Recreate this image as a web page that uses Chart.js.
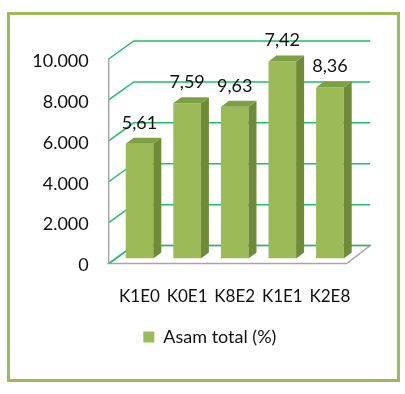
<!DOCTYPE html>
<html>
<head>
<meta charset="utf-8">
<script src="https://cdn.jsdelivr.net/npm/chart.js@4"></script>
<style>
  html, body { margin: 0; padding: 0; background: #fff; }
  #wrap { width: 405px; height: 394px; position: relative; }
</style>
</head>
<body>
<div id="wrap"><canvas id="chart" width="405" height="394"></canvas></div>
<script>
const categories = ['K1E0', 'K0E1', 'K8E2', 'K1E1', 'K2E8']
const asamTotal = [5.61, 7.59, 7.42, 9.63, 8.36]
// labels as printed above the bars in the original (not in bar order)
const valueLabels = ['5,61', '7,59', '9,63', '7,42', '8,36']
const yTicks = [0, 2, 4, 6, 8, 10]

const FRONT = '#9bbb59'
const SIDE = '#6e8c38'
const TOP = '#7f9f45'
const GRID = '#1fbf6a'
const DEPTH_X = 8, DEPTH_Y = 6

const threeD = {
  id: 'threeD',
  afterLayout(chart) {
    // legend is centred on the whole frame, not on the plot
    chart.legend.left += 33
    chart.legend.right += 33
  },
  beforeDraw(chart) {
    const ctx = chart.ctx
    const y = chart.scales.y
    const a = chart.chartArea
    ctx.save()
    ctx.fillStyle = '#fff'
    ctx.fillRect(0, 0, chart.width, chart.height)
    // frame
    ctx.strokeStyle = FRONT
    ctx.lineWidth = 3
    ctx.strokeRect(8.5, 13.5, 390, 367)

    const fx = a.left - 7, bx = a.left + 18, brx = a.right + 16.5, frx = a.right - 7
    const yF = v => y.getPixelForValue(v) + 5
    const yB = v => y.getPixelForValue(v) - 13
    // floor
    ctx.beginPath()
    ctx.moveTo(fx, yF(0))
    ctx.lineTo(frx, yF(0))
    ctx.lineTo(brx, yB(0))
    ctx.lineTo(bx, yB(0))
    ctx.closePath()
    ctx.fillStyle = '#fff'
    ctx.fill()
    ctx.strokeStyle = '#a6a6a6'
    ctx.lineWidth = 1.5
    ctx.stroke()
    // gridlines (side wall diagonal + back wall)
    ctx.strokeStyle = GRID
    ctx.lineWidth = 1.5
    yTicks.forEach(v => {
      ctx.beginPath()
      ctx.moveTo(fx, yF(v))
      ctx.lineTo(bx, yB(v))
      ctx.lineTo(brx, yB(v))
      ctx.stroke()
    })
    // vertical axis line
    ctx.strokeStyle = '#a6a6a6'
    ctx.lineWidth = 1.5
    ctx.beginPath()
    ctx.moveTo(fx, yF(10))
    ctx.lineTo(fx, yF(0))
    ctx.stroke()
    ctx.restore()
  },
  afterDatasetsDraw(chart) {
    const ctx = chart.ctx
    const meta = chart.getDatasetMeta(0)
    ctx.save()
    meta.data.forEach((bar, i) => {
      const p = bar.getProps(['x', 'y', 'base', 'width'], true)
      const l = p.x - p.width / 2, r = p.x + p.width / 2
      ctx.fillStyle = SIDE
      ctx.beginPath()
      ctx.moveTo(r, p.y)
      ctx.lineTo(r + DEPTH_X, p.y - DEPTH_Y)
      ctx.lineTo(r + DEPTH_X, p.base - DEPTH_Y)
      ctx.lineTo(r, p.base)
      ctx.closePath()
      ctx.fill()
      ctx.fillStyle = TOP
      ctx.beginPath()
      ctx.moveTo(l, p.y)
      ctx.lineTo(l + DEPTH_X, p.y - DEPTH_Y)
      ctx.lineTo(r + DEPTH_X, p.y - DEPTH_Y)
      ctx.lineTo(r, p.y)
      ctx.closePath()
      ctx.fill()

      ctx.fillStyle = '#111'
      ctx.font = '18px Lato'
      ctx.textAlign = 'center'
      ctx.textBaseline = 'middle'
      ctx.fillText(valueLabels[i], p.x, p.y - 21)
    })
    ctx.restore()
  }
}

new Chart(document.getElementById('chart'), {
  type: 'bar',
  data: {
    labels: categories,
    datasets: [{
      label: 'Asam total (%)',
      data: asamTotal,
      backgroundColor: FRONT,
      borderWidth: 0,
      categoryPercentage: 1,
      barPercentage: 0.58
    }]
  },
  options: {
    responsive: false,
    animation: false,
    layout: { padding: { top: 54, right: 51.3, left: 0, bottom: 38 } },
    plugins: {
      tooltip: { enabled: false },
      legend: {
        position: 'bottom',
        labels: {
          boxWidth: 11,
          boxHeight: 11,
          padding: 10,
          color: '#111',
          font: { family: 'Lato', size: 18 }
        }
      }
    },
    scales: {
      x: {
        afterFit(scale) { scale.height = 59.4 },
        grid: { display: false },
        border: { display: false },
        ticks: { color: '#111', font: { family: 'Lato', size: 17 }, padding: 20 }
      },
      y: {
        min: 0,
        max: 10,
        afterBuildTicks(scale) { scale.ticks = yTicks.map(v => ({ value: v })) },
        afterFit(scale) { scale.width = 115.7 },
        grid: { display: false },
        border: { display: false },
        ticks: {
          color: '#111',
          font: { family: 'Lato', size: 18 },
          padding: 19,
          labelOffset: 7,
          callback: v => v === 0 ? '0' : v.toFixed(3)
        }
      }
    }
  },
  plugins: [threeD]
})
</script>
</body>
</html>
